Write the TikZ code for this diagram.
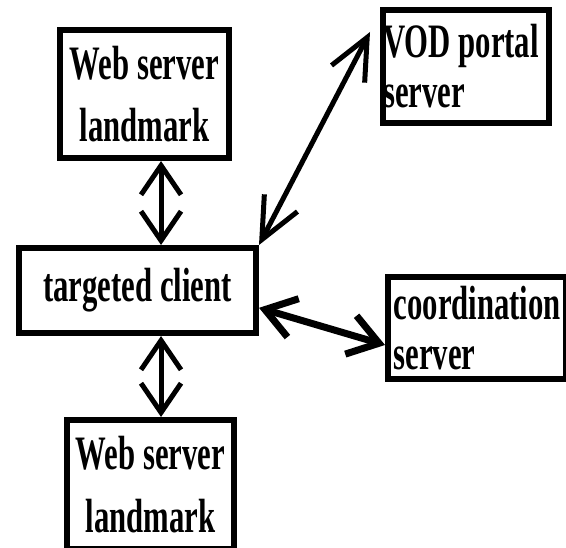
\documentclass[tikz,border=0pt]{standalone}
\usepackage{fontspec}
\usepackage{tikz}
\usetikzlibrary{arrows.meta,positioning}
\newfontfamily\boxfont[FakeStretch=0.64]{Liberation Serif}

\begin{document}
\begin{tikzpicture}[x=0.75pt,y=-0.75pt]

    \tikzset{
        unitbox/.style={
            draw=black,
            line width=4.5pt,
            anchor=north west,
            inner sep=0pt,
            font=\boxfont\bfseries\fontsize{36}{47}\selectfont
        },
        link/.style={
            line width=3.75pt,
            {Straight Barb[length=22pt,width=30pt]}-{Straight Barb[length=22pt,width=30pt]}
        },
        longlink/.style={
            line width=3.75pt,
            {Straight Barb[length=31pt,width=28pt]}-{Straight Barb[length=31pt,width=28pt]}
        }
    }

    \useasboundingbox (0,0) rectangle (566,548);

    \node[unitbox, minimum width=126.75pt, minimum height=96pt, align=center]
        (webTop) at (57,27) {Web server\\landmark};
    \node[unitbox, minimum width=124.5pt, minimum height=84.75pt, text width=124pt, align=flush left,
        font=\boxfont\bfseries\fontsize{36}{37.5}\selectfont]
        (vod) at (380,7) {VOD portal\\server};
    \node[unitbox, minimum width=177.75pt, minimum height=63.75pt, align=center]
        (client) at (16,245) {targeted client};
    \node[unitbox, minimum width=133.5pt, minimum height=76.5pt, text width=125pt, align=flush left,
        font=\boxfont\bfseries\fontsize{36}{37.5}\selectfont]
        (coord) at (385,274) {coordination\\server};
    \node[unitbox, minimum width=125.25pt, minimum height=96.75pt, align=center]
        (webBot) at (64,417) {Web server\\landmark};

    \draw[link] ([xshift=12.4pt]webTop.south) -- ([xshift=12.4pt]webTop.south |- client.north);
    \draw[link] ([xshift=7.9pt]webBot.north |- client.south) -- ([xshift=7.9pt]webBot.north);
    \draw[longlink] (client.north east) -- ([xshift=-7.5pt,yshift=-18.75pt]vod.north west);
    \draw[link, line width=5.25pt] ([yshift=-13pt]client.east) -- ([yshift=-12.75pt]coord.west);

\end{tikzpicture}
\end{document}
